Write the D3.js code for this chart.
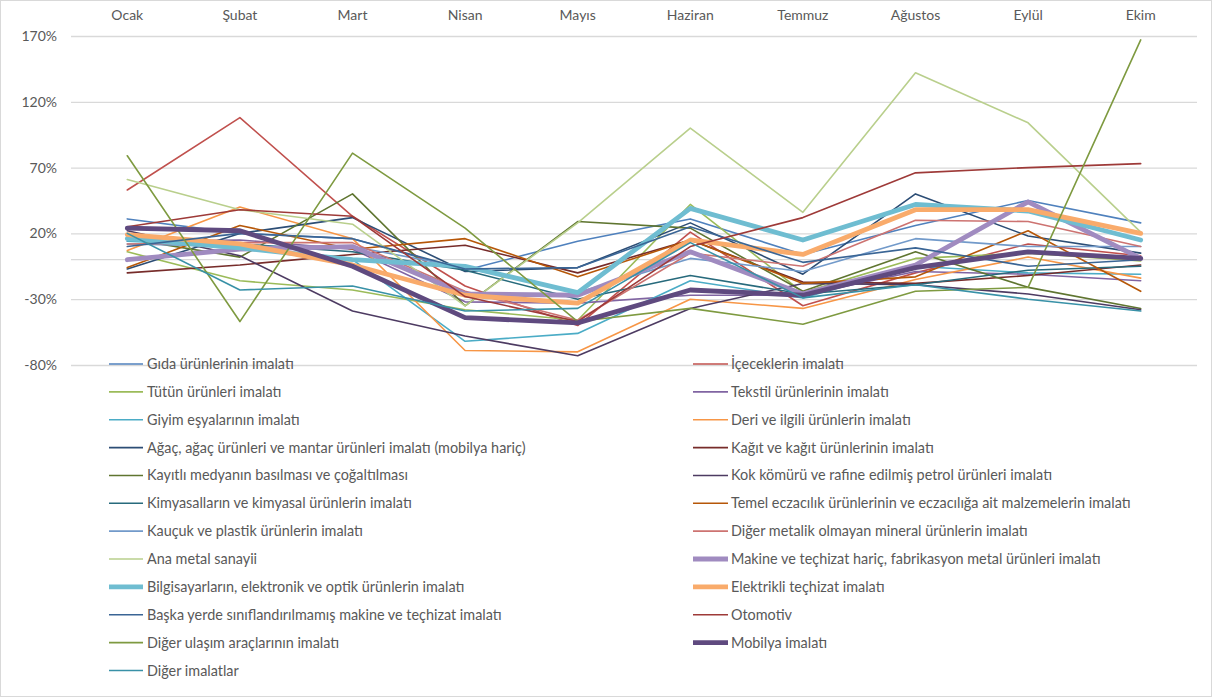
<!DOCTYPE html>
<html><head><meta charset="utf-8">
<script src="https://cdn.jsdelivr.net/npm/d3@7"></script>
<style>body{margin:0;background:#fff;} svg{display:block;font-family:Lato,'Open Sans',sans-serif;}</style>
</head><body><svg id="c" width="1213" height="698"></svg>
<script>
const months = ["Ocak","Şubat","Mart","Nisan","Mayıs","Haziran","Temmuz","Ağustos","Eylül","Ekim"];
const yTicks = [-80,-30,20,70,120,170];

const seriesNames = [
 "Gıda ürünlerinin imalatı","İçeceklerin imalatı","Tütün ürünleri imalatı","Tekstil ürünlerinin imalatı",
 "Giyim eşyalarının imalatı","Deri ve ilgili  ürünlerin imalatı","Ağaç, ağaç ürünleri ve mantar ürünleri imalatı (mobilya hariç)",
 "Kağıt ve kağıt ürünlerinin imalatı","Kayıtlı medyanın basılması ve çoğaltılması","Kok kömürü ve rafine edilmiş petrol ürünleri imalatı",
 "Kimyasalların ve kimyasal ürünlerin imalatı","Temel eczacılık ürünlerinin ve eczacılığa ait malzemelerin imalatı",
 "Kauçuk ve plastik ürünlerin imalatı","Diğer metalik olmayan mineral ürünlerin imalatı","Ana metal sanayii",
 "Makine ve teçhizat hariç, fabrikasyon metal ürünleri imalatı","Bilgisayarların, elektronik ve optik ürünlerin imalatı",
 "Elektrikli teçhizat imalatı","Başka yerde sınıflandırılmamış makine ve teçhizat imalatı","Otomotiv",
 "Diğer ulaşım araçlarının imalatı","Mobilya imalatı","Diğer imalatlar"];

const gida         = [31, 20, 16, -8, 14, 31, 4, 26, 45, 28];
const icecek       = [53, 108, 33, -20, -50, 21, -35, -10, 12, 3];
const tutun        = [6, -16, -23, -38, -46, 42, -25, 1, 5, -1];
const tekstil      = [14, 15, 8, -32, -33, -27, -27, -9, -11, -16];
const giyim        = [14, 10, 0, -62, -56, -16, -29, -5, -10, -11];
const deri         = [7, 40, 16, -69, -70, -30, -37, -15, 2, -14];
const agac         = [-7, 20, 32, -9, -6, 28, -11, 50, 18, 5];
const kagit        = [-10, -4, 4, 11, -10, 15, -17, -18, -12, -4];
const kayitli      = [16, 2, 50, -35, 29, 24, -24, 6, -21, -37];
const kok          = [22, 3, -39, -58, -73, -37, -18, -19, -26, -38];
const kimyasal     = [18, 12, 6, -8, -30, -12, -26, -19, -8, -5];
const eczacilik    = [-6, 26, 8, 16, -13, 15, -18, -13, 22, -24];
const kaucuk       = [12, 10, 10, -6, -25, 1, -9, 16, 10, 10];
const digerMetalik = [12, 13, 13, -24, -46, 5, -5, 30, 29, 10];
const anaMetal     = [61, 38, 27, -35, 28, 100, 36, 142, 104, 21];
const makine       = [0, 8, 10, -26, -27, 6, -26, -4, 44, 1];
const bilgisayar   = [16, 9, 0, -5, -25, 39, 15, 42, 37, 15];
const elektrikli   = [19, 12, -4, -27, -33, 15, 4, 38, 38, 20];
const baska        = [10, 20, 16, -7, -6, 25, -2, 9, -5, 0];
const otomotiv     = [25, 38, 33, -28, -47, 10, 32, 66, 70, 73];
const digerUlasim  = [79, -47, 81, 24, -47, -37, -49, -24, -21, 167];
const mobilya      = [24, 22, -5, -44, -48, -23, -27, -6, 6, 1];
const digerImalat  = [20, -23, -20, -39, -37, 13, -29, -19, -30, -39];

const seriesValues = [gida, icecek, tutun, tekstil, giyim, deri, agac, kagit, kayitli, kok, kimyasal, eczacilik,
  kaucuk, digerMetalik, anaMetal, makine, bilgisayar, elektrikli, baska, otomotiv, digerUlasim, mobilya, digerImalat];

const colors = ['#4F81BD','#C0504D','#9BBB59','#8064A2','#4BACC6','#F79646','#2C4D75','#772C2A','#5F7530','#4D3B62',
 '#276A7C','#B65708','#729ACA','#CD7371','#B9CF8C','#A08BC0','#6FBDD1','#F9AB6B','#3A6595','#9E3A38','#7E9A40','#5F4A7F','#3891A7'];
const thick = new Set([15,16,17,21]);

const svg = d3.select('#c');
svg.append('rect').attr('x',0.5).attr('y',0.5).attr('width',1211).attr('height',696)
  .attr('fill','#fff').attr('stroke','#D9D9D9');

const x = d3.scalePoint().domain(months).range([71,1197]).padding(0.5);
const y = d3.scaleLinear().domain([-80,170]).range([365,36]);

// gridlines
const yAxis = d3.axisLeft(y).tickValues(yTicks).tickFormat(d=>d+'%').tickSize(-(1197-71)).tickPadding(14);
const gy = svg.append('g').attr('transform','translate(71,0)').call(yAxis);
gy.select('.domain').remove();
gy.selectAll('.tick line').attr('stroke','#D9D9D9').attr('stroke-width',1.3);
gy.selectAll('.tick text').attr('fill','#595959').style('font-size','14px').style('font-family','Lato, sans-serif');

// category axis at 0, labels high
const xAxis = d3.axisTop(x).tickSize(0).tickPadding(0);
const gx = svg.append('g').attr('transform',`translate(0,${y(0)})`).call(xAxis);
gx.select('.domain').attr('stroke','#D9D9D9').attr('stroke-width',1.3).attr('d',`M71,0H1197`);
gx.selectAll('.tick text').remove();
svg.append('g').selectAll('text').data(months).join('text')
  .attr('x',d=>x(d)).attr('y',20).attr('text-anchor','middle')
  .attr('fill','#595959').style('font-size','14px').text(d=>d);

// lines
const line = d3.line().x((d,i)=>x(months[i])).y(d=>y(d));
const g = svg.append('g').attr('fill','none').attr('stroke-linejoin','round').attr('stroke-linecap','round');
seriesValues.forEach((vals,i)=>{
  g.append('path').attr('d',line(vals)).attr('stroke',colors[i]).attr('stroke-width',thick.has(i)?4.8:1.6);
});

// legend
const lg = svg.append('g');
seriesNames.forEach((name,i)=>{
  const col = i%2, row = Math.floor(i/2);
  const ly = 364 + row*27.86;
  const x0 = col ? 693 : 109, x1 = col ? 728 : 143, tx = col ? 731 : 147;
  lg.append('line').attr('x1',x0).attr('x2',x1).attr('y1',ly).attr('y2',ly)
    .attr('stroke',colors[i]).attr('stroke-width',thick.has(i)?4.8:1.6);
  lg.append('text').attr('x',tx).attr('y',ly).attr('dy','0.35em').attr('fill','#595959')
    .style('font-size','14.4px').text(name);
});
</script></body></html>
